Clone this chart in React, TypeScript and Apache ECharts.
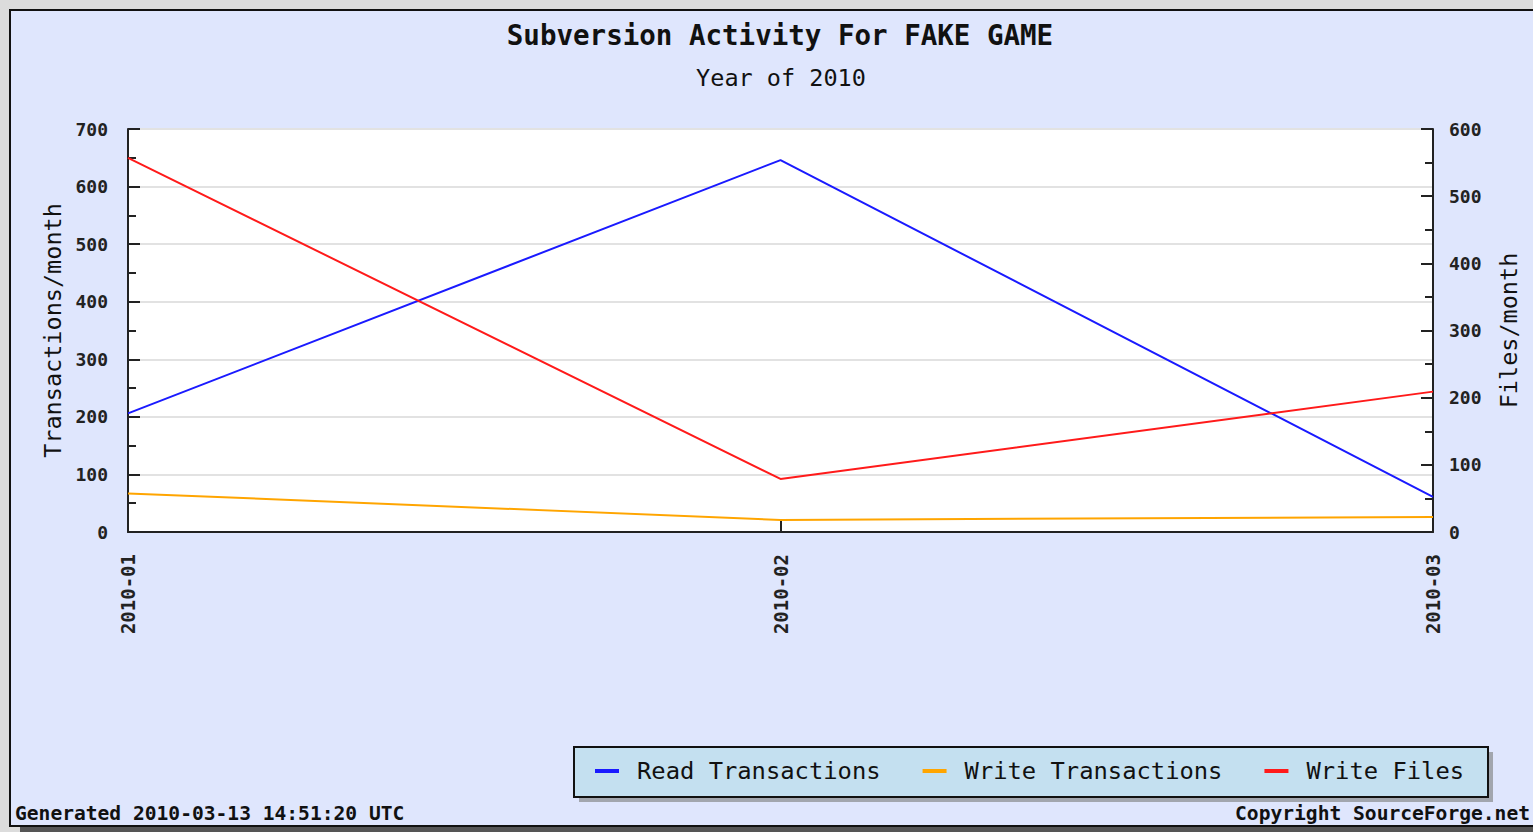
import React, { useEffect, useRef } from "react";
import * as echarts from "echarts";

const categories = ["2010-01", "2010-02", "2010-03"];
const readTransactions = [206, 646, 61];
const writeTransactions = [67, 21, 26];
const writeFiles = [557, 79, 209];
const seriesNames = ["Read Transactions", "Write Transactions", "Write Files"];
const seriesColors = ["#1a1aff", "#ffa500", "#ff1a1a"];

const MONO = "'DejaVu Sans Mono', monospace";

export default function App() {
  const ref = useRef<HTMLDivElement>(null);
  useEffect(() => {
    const chart = echarts.init(ref.current!, null, { renderer: "svg" });
    const axisLabelStyle = { fontFamily: MONO, fontSize: 18, fontWeight: "bold", color: "#222" };
    chart.setOption({
      animation: false,
      backgroundColor: "#dcdcdc",
      graphic: [
        { type: "rect", z: -10, shape: { x: 20, y: 20, width: 1600, height: 812 }, style: { fill: "#555" } },
        { type: "rect", z: -9, shape: { x: 10, y: 10, width: 1600, height: 816 }, style: { fill: "#dfe6fd", stroke: "#111", lineWidth: 2 } },
        { type: "rect", z: -8, shape: { x: 579, y: 752, width: 914, height: 50 }, style: { fill: "#a2a6ae" } },
        { type: "rect", z: -7, shape: { x: 574, y: 747, width: 914, height: 50 }, style: { fill: "#c4e0f0", stroke: "#111", lineWidth: 2 } },
        { type: "text", x: 780, y: 35, style: { text: "Subversion Activity For FAKE GAME", align: "center", verticalAlign: "middle", font: `bold 27.5px ${MONO}`, fill: "#111" } },
        { type: "text", x: 781, y: 78, style: { text: "Year of 2010", align: "center", verticalAlign: "middle", font: `23.5px ${MONO}`, fill: "#111" } },
        { type: "text", x: 15, y: 813, style: { text: "Generated 2010-03-13 14:51:20 UTC", align: "left", verticalAlign: "middle", font: `bold 19.6px ${MONO}`, fill: "#111" } },
        { type: "text", x: 1530, y: 813, style: { text: "Copyright SourceForge.net", align: "right", verticalAlign: "middle", font: `bold 19.6px ${MONO}`, fill: "#111" } },
      ],
      legend: {
        data: seriesNames,
        left: 595,
        top: 759,
        padding: 0,
        icon: "rect",
        itemWidth: 24,
        itemHeight: 4,
        itemGap: 42,
        textStyle: { fontFamily: MONO, fontSize: 23.8, color: "#111", padding: [0, 0, 0, 13] },
      },
      grid: { left: 128, right: 100, top: 129, bottom: 300, show: true, backgroundColor: "#ffffff", borderWidth: 0 },
      xAxis: {
        type: "category",
        data: categories,
        boundaryGap: false,
        axisLine: { lineStyle: { color: "#222", width: 2 } },
        axisTick: { inside: true, length: 13, lineStyle: { color: "#222", width: 2 } },
        axisLabel: { ...axisLabelStyle, fontSize: 19, rotate: 90, margin: 22 },
        splitLine: { show: false },
      },
      yAxis: [
        {
          type: "value",
          min: 0,
          max: 700,
          interval: 100,
          name: "Transactions/month",
          nameLocation: "middle",
          nameRotate: 90,
          nameGap: 62,
          nameTextStyle: { fontFamily: MONO, fontSize: 23.5, color: "#111" },
          axisLine: { show: true, lineStyle: { color: "#222", width: 2 } },
          axisTick: { show: true, inside: true, length: 12, lineStyle: { color: "#222", width: 2 } },
          minorTick: { show: true, splitNumber: 2, length: 8, lineStyle: { color: "#222", width: 2 } },
          axisLabel: { ...axisLabelStyle, margin: 20 },
          splitLine: { show: true, lineStyle: { color: "#e2e2e2", width: 2 } },
        },
        {
          type: "value",
          min: 0,
          max: 600,
          interval: 100,
          position: "right",
          name: "Files/month",
          nameLocation: "middle",
          nameRotate: 90,
          nameGap: 64,
          nameTextStyle: { fontFamily: MONO, fontSize: 23.5, color: "#111" },
          axisLine: { show: true, lineStyle: { color: "#222", width: 2 } },
          axisTick: { show: true, inside: true, length: 12, lineStyle: { color: "#222", width: 2 } },
          minorTick: { show: true, splitNumber: 2, length: 8, lineStyle: { color: "#222", width: 2 } },
          axisLabel: { ...axisLabelStyle, margin: 16 },
          splitLine: { show: false },
        },
      ],
      series: [
        { name: seriesNames[0], type: "line", data: readTransactions, yAxisIndex: 0, symbol: "none", color: seriesColors[0], lineStyle: { width: 2 }, z: 3 },
        { name: seriesNames[1], type: "line", data: writeTransactions, yAxisIndex: 0, symbol: "none", color: seriesColors[1], lineStyle: { width: 2 }, z: 2 },
        { name: seriesNames[2], type: "line", data: writeFiles, yAxisIndex: 1, symbol: "none", color: seriesColors[2], lineStyle: { width: 2 }, z: 4 },
      ],
    });
    return () => chart.dispose();
  }, []);
  return <div ref={ref} style={{ position: "fixed", left: 0, top: 0, width: 1533, height: 832 }} />;
}
